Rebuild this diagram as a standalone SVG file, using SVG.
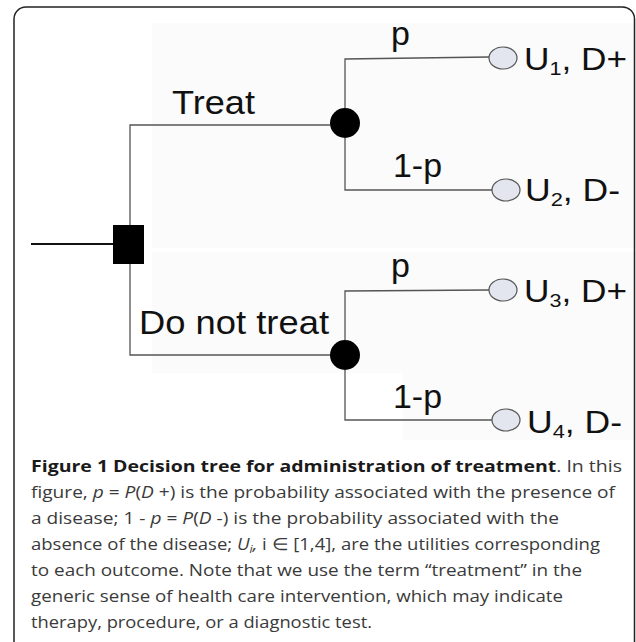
<svg xmlns="http://www.w3.org/2000/svg" width="636" height="642" viewBox="0 0 636 642">
<style>
.bg{fill:#fbfbfb}
.frame{fill:none;stroke:#222;stroke-width:1.5}
.conn{fill:none;stroke:#555;stroke-width:1.3}
.root{fill:none;stroke:#111;stroke-width:2}
.chance{fill:#000}
.term{fill:#e3e6ef;stroke:#555;stroke-width:1.2}
.lbl{font-family:"Liberation Sans",Arial,sans-serif;font-size:34px;fill:#111}
.ulbl{font-family:"Liberation Sans",Arial,sans-serif;font-size:31px;fill:#111}
.sub{font-size:19px}
.cap{font-family:"Open Sans","Noto Sans",sans-serif;font-size:16.5px;fill:#3a3a3a}
.b{font-weight:bold;fill:#1a1a1a}
.i{font-style:italic}
</style>
<rect class="bg" x="152" y="23" width="484" height="225"/>
<rect class="bg" x="152" y="252" width="484" height="121"/>
<rect class="bg" x="403" y="373" width="233" height="67"/>
<path class="frame" d="M14,642 V19 A12,12 0 0 1 26,7 H622 A12,12 0 0 1 634.5,19 V642"/>
<g id="connectors">
<line class="root" x1="31" y1="244" x2="113" y2="244"/>
<path class="conn" d="M130,225 V125 H330"/>
<path class="conn" d="M130,264 V355 H330"/>
<path class="conn" d="M345,108 V59 L489,57"/>
<path class="conn" d="M345,138 V190 H492"/>
<path class="conn" d="M345,340 V291 L489,290"/>
<path class="conn" d="M345,370 V420 H492"/>
</g>
<g id="labels">
<text class="lbl" x="172" y="114" textLength="83" lengthAdjust="spacingAndGlyphs">Treat</text>
<text class="lbl" x="139" y="334" textLength="190" lengthAdjust="spacingAndGlyphs">Do not treat</text>
<text class="lbl" x="391" y="45">p</text>
<text class="lbl" x="393" y="177" textLength="49" lengthAdjust="spacingAndGlyphs">1-p</text>
<text class="lbl" x="391" y="277">p</text>
<text class="lbl" x="393" y="408" textLength="49" lengthAdjust="spacingAndGlyphs">1-p</text>
</g>
<g id="decision">
<rect x="113" y="225" width="31" height="39" fill="#000"/>
</g>
<g id="chance1"><circle class="chance" cx="345" cy="123" r="15"/></g>
<g id="chance2"><circle class="chance" cx="345" cy="355" r="15"/></g>
<g id="u1">
<ellipse class="term" cx="503" cy="58" rx="14" ry="11"/>
<text class="ulbl" x="524" y="70" textLength="103" lengthAdjust="spacingAndGlyphs">U<tspan class="sub" dy="5">1</tspan><tspan dy="-5">, D+</tspan></text>
</g>
<g id="u2">
<ellipse class="term" cx="506" cy="190" rx="14" ry="11"/>
<text class="ulbl" x="525" y="201" textLength="95" lengthAdjust="spacingAndGlyphs">U<tspan class="sub" dy="5">2</tspan><tspan dy="-5">, D-</tspan></text>
</g>
<g id="u3">
<ellipse class="term" cx="503" cy="290" rx="14" ry="11"/>
<text class="ulbl" x="524" y="302" textLength="103" lengthAdjust="spacingAndGlyphs">U<tspan class="sub" dy="5">3</tspan><tspan dy="-5">, D+</tspan></text>
</g>
<g id="u4">
<ellipse class="term" cx="506" cy="420" rx="14" ry="11"/>
<text class="ulbl" x="527" y="433" textLength="95" lengthAdjust="spacingAndGlyphs">U<tspan class="sub" dy="5">4</tspan><tspan dy="-5">, D-</tspan></text>
</g>
<g id="caption">
<text class="cap" x="31" y="472" textLength="591" lengthAdjust="spacingAndGlyphs"><tspan class="b">Figure 1 Decision tree for administration of treatment</tspan>. In this</text>
<text class="cap" x="31" y="498" textLength="584" lengthAdjust="spacingAndGlyphs">figure, <tspan class="i">p</tspan> = <tspan class="i">P</tspan>(<tspan class="i">D</tspan> +) is the probability associated with the presence of</text>
<text class="cap" x="31" y="524" textLength="528" lengthAdjust="spacingAndGlyphs">a disease; 1 - <tspan class="i">p</tspan> = <tspan class="i">P</tspan>(<tspan class="i">D</tspan> -) is the probability associated with the</text>
<text class="cap" x="31" y="550" textLength="569" lengthAdjust="spacingAndGlyphs">absence of the disease; <tspan class="i">U</tspan><tspan class="i" font-size="11" dy="3">i</tspan><tspan class="i" dy="-3">,</tspan> i ∈  [1,4], are the utilities corresponding</text>
<text class="cap" x="31" y="576" textLength="551" lengthAdjust="spacingAndGlyphs">to each outcome. Note that we use the term “treatment” in the</text>
<text class="cap" x="31" y="602" textLength="532" lengthAdjust="spacingAndGlyphs">generic sense of health care intervention, which may indicate</text>
<text class="cap" x="31" y="628" textLength="341" lengthAdjust="spacingAndGlyphs">therapy, procedure, or a diagnostic test.</text>
</g>
</svg>
